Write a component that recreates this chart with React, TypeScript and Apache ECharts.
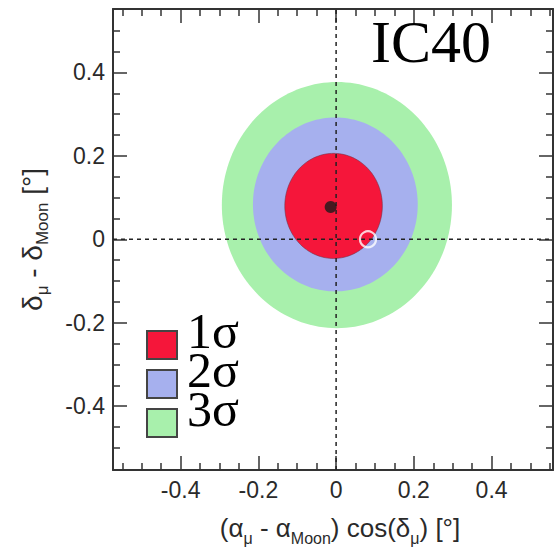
import React, { useEffect, useRef } from "react";
import * as echarts from "echarts";

// ---- data ----
const X_MIN = -0.574;
const X_MAX = 0.558;
const Y_MIN = -0.553;
const Y_MAX = 0.552;
const MAJOR_TICKS = [-0.4, -0.2, 0, 0.2, 0.4];
const X_MINOR_TICKS = [-0.55, -0.5, -0.45, -0.35, -0.3, -0.25, -0.15, -0.1, -0.05, 0.05, 0.1, 0.15, 0.25, 0.3, 0.35, 0.45, 0.5, 0.55];
const Y_MINOR_TICKS = [-0.5, -0.45, -0.35, -0.3, -0.25, -0.15, -0.1, -0.05, 0.05, 0.1, 0.15, 0.25, 0.3, 0.35, 0.45, 0.5];

const SIGMA_LEVELS = ["3σ", "2σ", "1σ"];
const CONTOUR_CX = [0.002, -0.002, -0.0065];
const CONTOUR_CY = [0.082, 0.0835, 0.08];
const CONTOUR_RX = [0.296, 0.212, 0.1255];
const CONTOUR_RY = [0.295, 0.2085, 0.126];
const LEGEND_ORDER = ["1σ", "2σ", "3σ"];

const BEST_FIT = [-0.014, 0.0775];
const MOON_POS = [0.082, 0];

const TITLE = "IC40";

// ---- styles ----
const CONTOUR_COLORS: Record<string, string> = {
  "1σ": "#f5163a",
  "2σ": "#a6b0ee",
  "3σ": "#a8f0ac",
};
const CONTOUR_EDGES: Record<string, string> = {
  "1σ": "rgba(110,50,70,0.55)",
  "2σ": "rgba(0,0,0,0)",
  "3σ": "rgba(0,0,0,0)",
};
const AXIS_COLOR = "#333";
const LABEL_FONT = "Liberation Sans, Arial, sans-serif";
const SERIF_FONT = "Liberation Serif, Times New Roman, serif";

function ellipseItem(color: string, edge: string) {
  return (params: any, api: any) => {
    const cx = api.value(0);
    const cy = api.value(1);
    const rx = api.value(2);
    const ry = api.value(3);
    const pts: number[][] = [];
    const n = 160;
    for (let i = 0; i < n; i++) {
      const t = (i / n) * Math.PI * 2;
      pts.push(api.coord([cx + rx * Math.cos(t), cy + ry * Math.sin(t)]));
    }
    return {
      type: "polygon",
      shape: { points: pts },
      style: { fill: color, stroke: edge, lineWidth: 1 },
    };
  };
}

export default function App() {
  const ref = useRef<HTMLDivElement>(null);
  useEffect(() => {
    if (!ref.current) return;
    const chart = echarts.init(ref.current, undefined, { renderer: "svg" });

    const axisLine = { show: true, onZero: false, lineStyle: { color: AXIS_COLOR, width: 2 } };
    const noLine = { show: false, onZero: false };
    const tickStyle = { color: AXIS_COLOR, width: 1.5 };

    const labelStyle = {
      fontFamily: LABEL_FONT,
      fontSize: 23,
      color: "#2a2a2a",
    };

    const subRichX = {
      s: { fontFamily: LABEL_FONT, fontSize: 16, color: "#2a2a2a", padding: [20, 0, 0, 0] },
    };
    const subRichY = {
      s: { fontFamily: LABEL_FONT, fontSize: 17, color: "#2a2a2a", padding: [21, 0, 0, 0] },
    };

    const xAxisBase = { type: "value", min: X_MIN, max: X_MAX, splitLine: { show: false }, gridIndex: 0 };
    const yAxisBase = { type: "value", min: Y_MIN, max: Y_MAX, splitLine: { show: false }, gridIndex: 0 };

    const contourSeries = SIGMA_LEVELS.map((name, i) => ({
      name,
      type: "custom",
      xAxisIndex: 0,
      yAxisIndex: 0,
      z: 2,
      silent: true,
      itemStyle: { color: CONTOUR_COLORS[name] },
      data: [[CONTOUR_CX[i], CONTOUR_CY[i], CONTOUR_RX[i], CONTOUR_RY[i]]],
      encode: { x: 0, y: 1 },
      renderItem: ellipseItem(CONTOUR_COLORS[name], CONTOUR_EDGES[name]),
    }));

    const option: any = {
      animation: false,
      backgroundColor: "#fff",
      title: {
        text: TITLE,
        left: 371,
        top: 12,
        padding: 0,
        textStyle: { fontFamily: SERIF_FONT, fontSize: 60, fontWeight: "normal", color: "#000" },
      },
      legend: {
        orient: "vertical",
        left: 146,
        top: 306,
        height: 220,
        padding: 0,
        itemWidth: 30,
        itemHeight: 28,
        itemGap: -21,
        icon: "rect",
        data: LEGEND_ORDER,
        selectedMode: false,
        itemStyle: { borderColor: "#444", borderWidth: 2 },
        formatter: "{t|{name}}\n{e| }",
        textStyle: {
          rich: {
            t: {
              fontFamily: SERIF_FONT,
              fontSize: 50,
              color: "#000",
              lineHeight: 32,
              padding: [0, 0, 0, 5],
            },
            e: { fontSize: 10, lineHeight: 28 },
          },
        },
      },
      grid: { left: 113, right: 1, top: 9, bottom: 77, containLabel: false, outerBoundsMode: "none" },
      xAxis: [
        {
          ...xAxisBase,
          position: "bottom",
          axisLine,
          axisTick: { show: true, inside: true, length: 14, lineStyle: tickStyle, customValues: MAJOR_TICKS },
          axisLabel: { ...labelStyle, margin: 8, customValues: MAJOR_TICKS },
          name: "(α{s|μ} - α{s|Moon}) cos(δ{s|μ}) [°]",
          nameLocation: "middle",
          nameGap: 40,
          nameTextStyle: { fontFamily: LABEL_FONT, fontSize: 26, color: "#2a2a2a", rich: subRichX, padding: [0, 0, 0, 14] },
        },
        {
          ...xAxisBase,
          position: "bottom",
          axisLine: noLine,
          axisTick: { show: true, inside: true, length: 7, lineStyle: tickStyle, customValues: X_MINOR_TICKS },
          axisLabel: { show: false },
        },
        {
          ...xAxisBase,
          position: "top",
          axisLine,
          axisTick: { show: true, inside: true, length: 14, lineStyle: tickStyle, customValues: MAJOR_TICKS },
          axisLabel: { show: false },
        },
        {
          ...xAxisBase,
          position: "top",
          axisLine: noLine,
          axisTick: { show: true, inside: true, length: 7, lineStyle: tickStyle, customValues: X_MINOR_TICKS },
          axisLabel: { show: false },
        },
      ],
      yAxis: [
        {
          ...yAxisBase,
          position: "left",
          axisLine,
          axisTick: { show: true, inside: true, length: 14, lineStyle: tickStyle, customValues: MAJOR_TICKS },
          axisLabel: { ...labelStyle, margin: 8, customValues: MAJOR_TICKS },
          name: "δ{s|μ} - δ{s|Moon} [°]",
          nameLocation: "middle",
          nameGap: 62,
          nameTextStyle: { fontFamily: LABEL_FONT, fontSize: 28, color: "#2a2a2a", rich: subRichY },
        },
        {
          ...yAxisBase,
          position: "left",
          axisLine: noLine,
          axisTick: { show: true, inside: true, length: 7, lineStyle: tickStyle, customValues: Y_MINOR_TICKS },
          axisLabel: { show: false },
        },
        {
          ...yAxisBase,
          position: "right",
          axisLine,
          axisTick: { show: true, inside: true, length: 14, lineStyle: tickStyle, customValues: MAJOR_TICKS },
          axisLabel: { show: false },
        },
        {
          ...yAxisBase,
          position: "right",
          axisLine: noLine,
          axisTick: { show: true, inside: true, length: 7, lineStyle: tickStyle, customValues: Y_MINOR_TICKS },
          axisLabel: { show: false },
        },
      ],
      series: [
        ...contourSeries,
        {
          name: "vline",
          type: "line",
          xAxisIndex: 0,
          yAxisIndex: 0,
          z: 3,
          silent: true,
          symbol: "none",
          data: [[0, Y_MIN], [0, Y_MAX]],
          lineStyle: { color: "#222", width: 1.5, type: [4, 4] },
        },
        {
          name: "hline",
          type: "line",
          xAxisIndex: 0,
          yAxisIndex: 0,
          z: 3,
          silent: true,
          symbol: "none",
          data: [[X_MIN, 0], [X_MAX, 0]],
          lineStyle: { color: "#222", width: 1.5, type: [4, 4] },
        },
        {
          name: "best fit",
          type: "scatter",
          xAxisIndex: 0,
          yAxisIndex: 0,
          z: 4,
          silent: true,
          symbolSize: 12,
          itemStyle: { color: "#1a1a1a" },
          data: [BEST_FIT],
        },
        {
          name: "Moon",
          type: "scatter",
          xAxisIndex: 0,
          yAxisIndex: 0,
          z: 5,
          silent: true,
          symbolSize: 16,
          itemStyle: { color: "rgba(0,0,0,0)", borderColor: "#fff", borderWidth: 2.2 },
          data: [MOON_POS],
        },
      ],
    };
    chart.setOption(option);
    return () => chart.dispose();
  }, []);
  return (
    <div
      ref={ref}
      style={{ position: "absolute", left: 0, top: 0, width: 554, height: 547 }}
    />
  );
}
